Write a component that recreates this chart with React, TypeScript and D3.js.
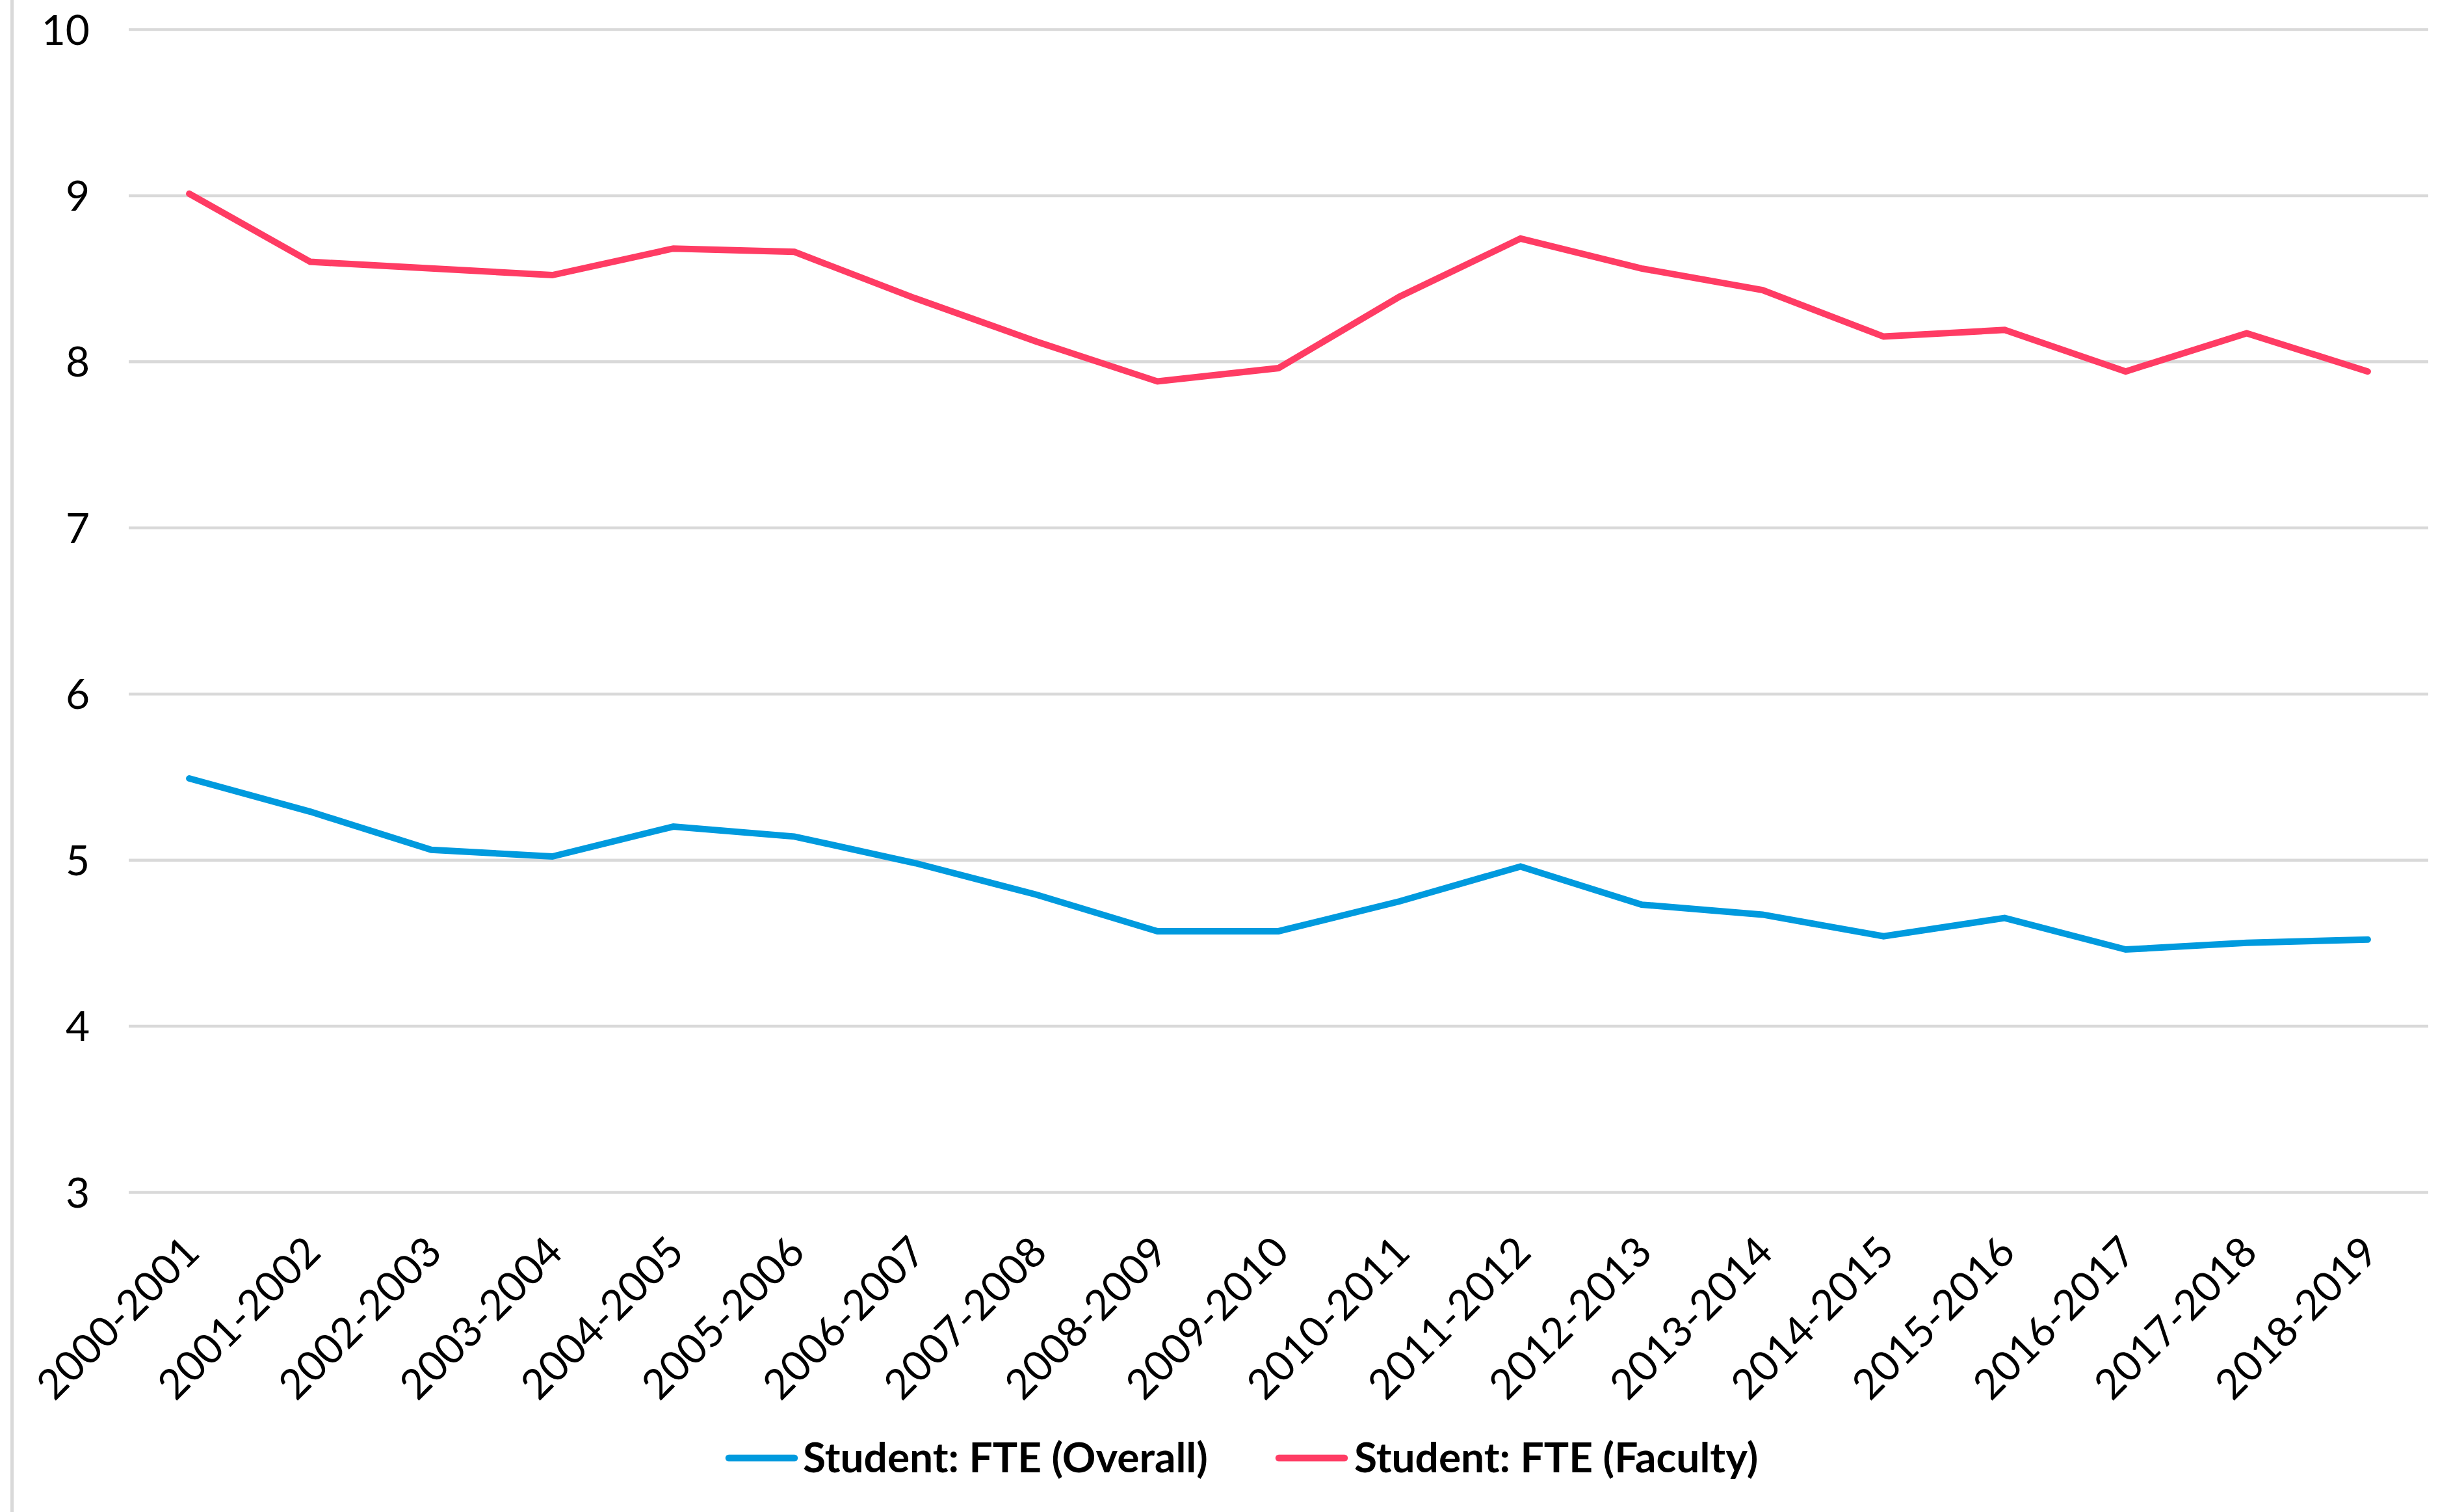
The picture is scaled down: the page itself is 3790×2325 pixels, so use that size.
import React, { useEffect, useRef } from 'react';
import * as d3 from 'd3';

const years = [
  '2000-2001', '2001-2002', '2002-2003', '2003-2004', '2004-2005',
  '2005-2006', '2006-2007', '2007-2008', '2008-2009', '2009-2010',
  '2010-2011', '2011-2012', '2012-2013', '2013-2014', '2014-2015',
  '2015-2016', '2016-2017', '2017-2018', '2018-2019'
];
const overall = [5.49, 5.29, 5.06, 5.02, 5.20, 5.14, 4.98, 4.79, 4.57, 4.57, 4.75, 4.96, 4.73, 4.67, 4.54, 4.65, 4.46, 4.50, 4.52];
const faculty = [9.01, 8.60, 8.56, 8.52, 8.68, 8.66, 8.38, 8.12, 7.88, 7.96, 8.39, 8.74, 8.56, 8.43, 8.15, 8.19, 7.94, 8.17, 7.94];
const yTicks = [3, 4, 5, 6, 7, 8, 9, 10];
const seriesNames = ['Student: FTE (Overall)', 'Student: FTE (Faculty)'];
const seriesColors = ['#009ADE', '#FF3C64'];

const width = 3790;
const height = 2325;
const plotLeft = 198;
const plotRight = 3735;
const plotTop = 45;
const plotBottom = 1833;
const font = 'Lato, "Open Sans", sans-serif';

export default function App() {
  const ref = useRef<SVGSVGElement>(null);

  useEffect(() => {
    const svg = d3.select(ref.current);
    svg.selectAll('*').remove();

    // chart area border (only the left edge is visible)
    svg.append('line')
      .attr('x1', 18.5).attr('x2', 18.5)
      .attr('y1', 0).attr('y2', height)
      .attr('stroke', '#D9D9D9')
      .attr('stroke-width', 5);

    const x = d3.scalePoint<string>()
      .domain(years)
      .range([plotLeft, plotRight])
      .padding(0.5);

    const y = d3.scaleLinear()
      .domain([3, 10])
      .range([plotBottom, plotTop]);

    // y axis + gridlines
    const yAxis = svg.append('g')
      .attr('transform', `translate(${plotLeft},0)`)
      .call(
        d3.axisLeft(y)
          .tickValues(yTicks)
          .tickSize(-(plotRight - plotLeft))
          .tickPadding(60)
          .tickFormat(d3.format('d'))
      );
    yAxis.select('.domain').remove();
    yAxis.selectAll('.tick line')
      .attr('stroke', '#D9D9D9')
      .attr('stroke-width', 4.5);
    yAxis.selectAll('.tick text')
      .attr('fill', '#000')
      .attr('dy', '0.36em')
      .style('font-family', font)
      .style('font-size', '64px');

    // x axis labels
    const xAxis = svg.append('g')
      .attr('transform', `translate(0,${plotBottom})`)
      .call(d3.axisBottom(x).tickSize(0));
    xAxis.select('.domain').remove();
    xAxis.selectAll('.tick text')
      .attr('fill', '#000')
      .attr('x', 0)
      .attr('y', 0)
      .attr('dy', 0)
      .attr('text-anchor', 'end')
      .attr('transform', 'translate(19,96) rotate(-45)')
      .style('font-family', font)
      .style('font-size', '64px');

    // lines
    const line = d3.line<number>()
      .x((d, i) => x(years[i]) as number)
      .y(d => y(d));

    [overall, faculty].forEach((series, i) => {
      svg.append('path')
        .datum(series)
        .attr('d', line)
        .attr('fill', 'none')
        .attr('stroke', seriesColors[i])
        .attr('stroke-width', 10)
        .attr('stroke-linejoin', 'miter')
        .attr('stroke-linecap', 'round');
    });

    // legend
    const legendY = 2242;
    const legendX = [1121, 1967];
    seriesNames.forEach((name, i) => {
      const g = svg.append('g').attr('transform', `translate(${legendX[i]},${legendY})`);
      g.append('line')
        .attr('x1', 0).attr('x2', 101)
        .attr('y1', 0).attr('y2', 0)
        .attr('stroke', seriesColors[i])
        .attr('stroke-width', 10.5)
        .attr('stroke-linecap', 'round');
      g.append('text')
        .attr('x', i === 0 ? 114 : 116)
        .attr('y', 0)
        .attr('dy', '0.35em')
        .attr('fill', '#000')
        .style('font-family', font)
        .style('font-weight', 'bold')
        .style('font-size', '64px')
        .text(name);
    });
  }, []);

  return (
    <svg
      ref={ref}
      width={width}
      height={height}
      style={{ position: 'absolute', left: 0, top: 0, background: '#fff' }}
    />
  );
}
